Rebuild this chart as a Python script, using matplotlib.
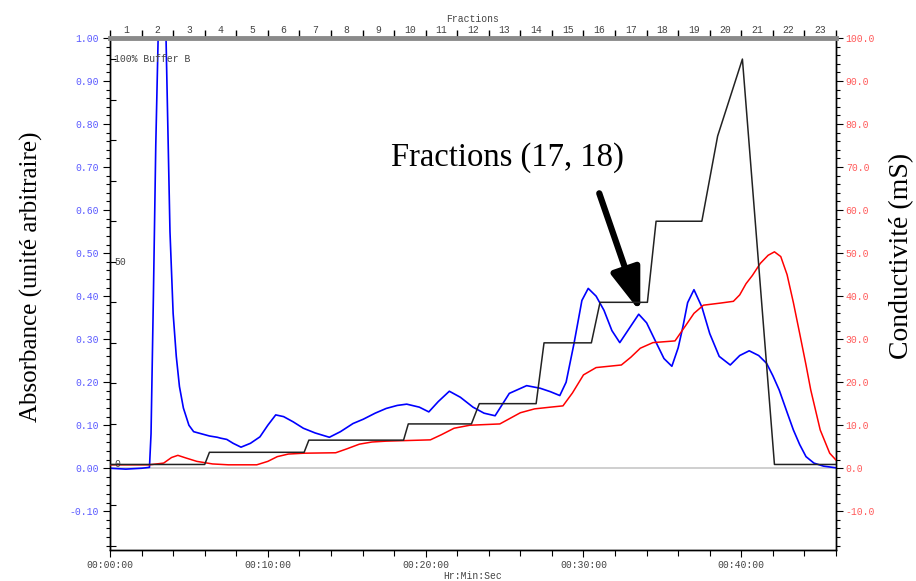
import numpy as np
import matplotlib
matplotlib.use("Agg")
import matplotlib.pyplot as plt
from matplotlib.ticker import MultipleLocator, FuncFormatter, FixedLocator

# ---------------- data ----------------
# time in minutes
abs_t = [0.0, 1.0, 2.0, 2.5, 2.6, 2.75, 2.9, 3.05, 3.3, 3.55, 3.8, 4.0, 4.2, 4.4, 4.65, 5.0, 5.3, 5.8,
         6.3, 6.8, 7.0, 7.4, 7.8, 8.3, 8.9, 9.5, 10.0, 10.5, 11.0, 11.6, 12.25, 13.0, 13.9, 14.6,
         15.4, 16.05, 16.8, 17.5, 18.2, 18.8, 19.6, 20.2, 20.8, 21.5, 22.2, 23.0, 23.7, 24.4, 25.3,
         26.4, 27.25, 27.9, 28.5, 28.9, 29.4, 29.9, 30.3, 30.8, 31.3, 31.8, 32.3, 32.9, 33.5, 34.0,
         34.5, 35.1, 35.6, 36.0, 36.3, 36.6, 37.0, 37.5, 38.0, 38.6, 39.3, 39.9, 40.5, 41.1, 41.6,
         42.0, 42.4, 42.9, 43.3, 43.7, 44.1, 44.6, 45.2, 46.0]
abs_v = [0.0, -0.002, 0.0, 0.002, 0.08, 0.40, 0.75, 1.0, 1.25, 1.0, 0.55, 0.36, 0.26, 0.19, 0.14, 0.10,
         0.085, 0.08, 0.075, 0.072, 0.07, 0.067, 0.058, 0.049, 0.058, 0.073, 0.10, 0.124, 0.12, 0.108,
         0.093, 0.082, 0.072, 0.085, 0.104, 0.114, 0.128, 0.139, 0.146, 0.149, 0.142, 0.131, 0.155,
         0.179, 0.165, 0.142, 0.128, 0.122, 0.174, 0.192, 0.186, 0.178, 0.169, 0.20, 0.29, 0.39, 0.418,
         0.40, 0.367, 0.32, 0.292, 0.325, 0.358, 0.338, 0.30, 0.255, 0.237, 0.28, 0.329, 0.385, 0.415,
         0.375, 0.313, 0.26, 0.24, 0.262, 0.273, 0.262, 0.244, 0.215, 0.182, 0.13, 0.089, 0.055, 0.027,
         0.012, 0.005, 0.001]

cond_t = [0.0, 2.5, 3.4, 3.9, 4.3, 4.8, 5.5, 6.5, 7.5, 9.3, 10.0, 10.6, 11.3, 12.3, 14.3, 15.0, 15.8,
          16.6, 17.5, 20.3, 21.0, 21.8, 22.8, 24.7, 25.3, 26.0, 26.9, 27.9, 28.7, 29.3, 30.0, 30.8,
          32.4, 33.0, 33.6, 34.4, 35.8, 36.5, 37.0, 37.6, 38.7, 39.5, 39.9, 40.3, 40.7, 41.2, 41.7,
          42.1, 42.5, 42.9, 43.3, 43.7, 44.1, 44.4, 45.0, 45.6, 46.0]
cond_v = [0.8, 0.8, 1.2, 2.5, 3.0, 2.4, 1.6, 1.0, 0.8, 0.8, 1.6, 2.7, 3.3, 3.5, 3.6, 4.5, 5.6,
          6.1, 6.3, 6.6, 7.8, 9.3, 10.0, 10.3, 11.5, 12.9, 13.8, 14.2, 14.5, 17.5, 21.7, 23.4,
          24.0, 25.8, 27.9, 29.2, 29.6, 33.3, 36.0, 37.9, 38.4, 38.8, 40.3, 42.9, 44.8, 47.6, 49.5,
          50.3, 49.2, 45.0, 38.5, 31.3, 24.0, 18.2, 8.9, 3.5, 1.9]

bufb_t = [0.0, 6.0, 6.3, 12.3, 12.6, 18.6, 18.9, 22.9, 23.4, 27.0, 27.5, 30.5, 31.05, 34.05, 34.6,
          37.5, 38.5, 40.07, 42.1, 46.0]
bufb_v = [0, 0, 3, 3, 6, 6, 10, 10, 15, 15, 30, 30, 40, 40, 60, 60, 81, 100, 0, 0]

fraction_edges = list(range(0, 47, 2))
fraction_labels = [str(i) for i in range(1, 24)]
time_ticks = [0, 10, 20, 30, 40]

annot_text = "Fractions (17, 18)"
annot_tip = (33.6, 0.363)
annot_tail = (31.0, 0.639)
annot_pos = (25.2, 0.722)

# ---------------- figure ----------------
mono = "Liberation Mono"
serif = "Liberation Serif"

fig = plt.figure(figsize=(9.16, 5.81), dpi=100)
ax = fig.add_axes([110 / 916, 31 / 581, 726 / 916, 512 / 581])
ax.set_xlim(0, 46)
ax.set_ylim(-0.19, 1.0)

ax.axhline(0, color="#cccccc", lw=1.3, zorder=1)

ax.plot(abs_t, abs_v, color="#0000ff", lw=1.2, zorder=4)

axc = ax.twinx()
axc.set_ylim(-19, 100)
axc.plot(cond_t, cond_v, color="#ff0000", lw=1.1, zorder=3)

axb = ax.twinx()
axb.set_ylim(-21.1, 105.2)
axb.plot(bufb_t, bufb_v, color="#222222", lw=1.1, zorder=5)
for s in axb.spines.values():
    s.set_visible(False)
axb.yaxis.tick_left()
axb.yaxis.set_major_locator(MultipleLocator(10))
axb.tick_params(axis="y", direction="in", length=4, width=0.8, labelleft=False, labelright=False)
for val, lab in [(100, "100% Buffer B"), (50, "50"), (0, "0")]:
    axb.text(0.006, val, lab, transform=axb.get_yaxis_transform(), ha="left", va="center",
             fontsize=7, family=mono, color="#444444")

# left axis formatting
ax.yaxis.set_major_locator(MultipleLocator(0.1))
ax.yaxis.set_minor_locator(MultipleLocator(0.02))
ax.yaxis.set_major_formatter(FuncFormatter(lambda v, p: f"{v:.2f}"))
ax.tick_params(axis="y", which="major", length=5, width=0.8, labelsize=7, labelcolor="#5a5aff", pad=3)
ax.tick_params(axis="y", which="minor", length=3, width=0.8)
for lab in ax.get_yticklabels():
    lab.set_family(mono)

# right axis
axc.yaxis.set_major_locator(MultipleLocator(10))
axc.yaxis.set_minor_locator(MultipleLocator(2))
axc.yaxis.set_major_formatter(FuncFormatter(lambda v, p: f"{v:.1f}"))
axc.tick_params(axis="y", which="major", length=5, width=0.8, labelsize=7, labelcolor="#ff5a5a", pad=2)
axc.tick_params(axis="y", which="minor", length=3, width=0.8)
for lab in axc.get_yticklabels():
    lab.set_family(mono)

# bottom axis
ax.xaxis.set_major_locator(FixedLocator(time_ticks))
ax.xaxis.set_minor_locator(MultipleLocator(2))
ax.xaxis.set_major_formatter(FuncFormatter(lambda v, p: f"00:{int(v):02d}:00"))
ax.tick_params(axis="x", which="major", length=5, width=0.8, labelsize=7, labelcolor="#444444", pad=2)
ax.tick_params(axis="x", which="minor", length=4, width=0.8)
for lab in ax.get_xticklabels():
    lab.set_family(mono)
ax.set_xlabel("Hr:Min:Sec", family=mono, fontsize=7, color="#444444", labelpad=1)

for a in (ax, axc):
    a.spines["top"].set_visible(False)
for name in ("left", "right", "bottom"):
    ax.spines[name].set_linewidth(1.0)
    axc.spines[name].set_linewidth(1.0)

# top fraction axis
axt = ax.twiny()
axt.set_xlim(0, 46)
axt.xaxis.set_major_locator(FixedLocator(fraction_edges))
axt.xaxis.set_minor_locator(FixedLocator([e + 1 for e in fraction_edges[:-1]]))
axt.xaxis.set_major_formatter(FuncFormatter(lambda v, p: ""))
axt.xaxis.set_minor_formatter(FuncFormatter(lambda v, p: fraction_labels[int(round((v - 1) / 2))]))
axt.tick_params(axis="x", which="major", length=6, width=1.0, color="black")
axt.tick_params(axis="x", which="minor", length=0, labelsize=7, labelcolor="#444444", pad=2)
for lab in axt.get_xticklabels(minor=True):
    lab.set_family(mono)
axt.set_xlabel("Fractions", family=mono, fontsize=7, color="#444444", labelpad=2)
for name in ("left", "right", "bottom"):
    axt.spines[name].set_visible(False)
axt.spines["top"].set_color("#8a8a8a")
axt.spines["top"].set_linewidth(3.5)

# axis titles
ax.set_ylabel("Absorbance (unité arbitraire)", family=serif, fontsize=18, color="black")
ax.yaxis.set_label_coords(-0.092, 0.533)
axc.set_ylabel("Conductivité (mS)", family=serif, fontsize=20, color="black")
axc.yaxis.set_label_coords(1.073, 0.575)

# annotation
ax.text(annot_pos[0], annot_pos[1], annot_text, family=serif, fontsize=23.5, ha="center", va="center", zorder=6)
ax.annotate("", xy=annot_tip, xytext=annot_tail,
            arrowprops=dict(arrowstyle="-|>,head_length=1.3,head_width=0.45", lw=4.5, color="black",
                            shrinkA=0, shrinkB=0, mutation_scale=20), zorder=6)

fig.savefig("out.png", dpi=100)
